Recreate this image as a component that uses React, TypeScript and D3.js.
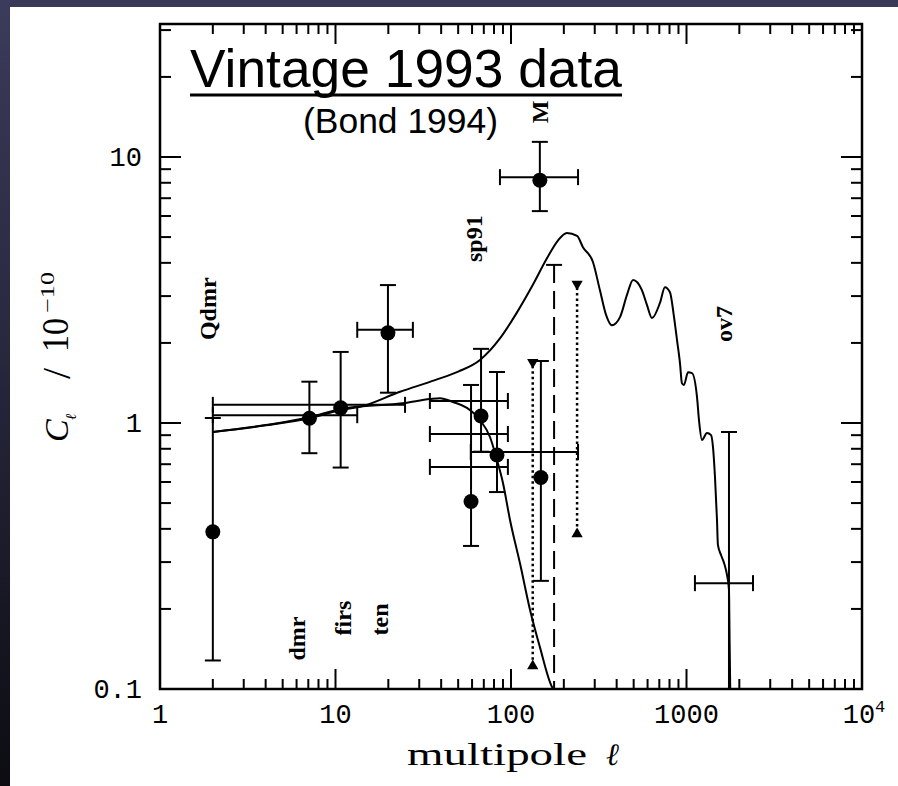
import React from 'react';
import * as d3 from 'd3';

const W = 898;
const H = 786;

// Axis ticks and their labels
const xMajorValues = [1, 10, 100, 1000, 10000];
const xMajorLabels = ['1', '10', '100', '1000', '10'];
const xMajorSup = ['', '', '', '', '4'];
const yMajorValues = [0.1, 1, 10];
const yMajorLabels = ['0.1', '1', '10'];

// Band-power detections: multipole centre, value, vertical range, optional multipole window
const pointNames = ['Qdmr', 'dmr', 'firs', 'ten', 'sp91a', 'sp91b', 'sp91c', 'msam', 'max'];
const pointL = [2, 7.1, 10.7, 19.9, 67.5, 83.2, 59.2, 148, 146];
const pointV = [0.4, 1.07, 1.17, 2.24, 1.09, 0.778, 0.52, 0.64, 8.4];
const pointLo = [0.128, 0.77, 0.68, 1.3, 0.78, 0.55, 0.345, 0.255, 6.26];
const pointHi = [1.044, 1.43, 1.85, 3.3, 1.9, 1.555, 1.39, 1.71, 11.4];
const pointLMin = [null, 2, 2, 13.3, null, 59, null, null, 86.5];
const pointLMax = [null, 13.3, 24.9, 27.6, null, 241, null, null, 241];

// Cross without a marker (OVRO ov7)
const crossL = [1746];
const crossV = [0.25];
const crossLo = [0.05];
const crossHi = [0.925];
const crossLMin = [1117];
const crossLMax = [2393];

// Window-only bars (multipole range at a given band power)
const windowV = [1.21, 0.909, 0.684];
const windowLMin = [34.5, 34.5, 34.5];
const windowLMax = [96, 96, 96];

// Dotted upper/lower limit pairs
const limitL = [133, 238];
const limitLo = [0.12, 0.376];
const limitHi = [1.72, 3.39];

// Dashed upper limit
const dashedL = [176];
const dashedLo = [0.05];
const dashedHi = [3.93];

// Model spectra
const modelPeaked: [number, number][] = [
  [2, 0.925], [4, 0.98], [7.16, 1.044], [10.8, 1.12], [13.8, 1.15], [23.3, 1.31],
  [36.9, 1.45], [50, 1.56], [66.6, 1.726], [86.5, 2.08], [108, 2.6], [133, 3.3],
  [160, 4.15], [185, 4.85], [208, 5.18], [238, 5.05], [257, 4.58], [293, 4.03],
  [321, 3.16], [348, 2.55], [376, 2.33], [418, 2.5], [458, 3.03], [496, 3.45],
  [557, 3.16], [595, 2.78], [636, 2.48], [706, 2.83], [754, 3.24], [805, 3.1],
  [849, 2.5], [883, 2.05], [918, 1.68], [942, 1.41], [967, 1.39], [1020, 1.55],
  [1075, 1.54], [1148, 1.25], [1178, 1.026], [1225, 0.863], [1308, 0.917],
  [1380, 0.9], [1416, 0.81], [1453, 0.627], [1492, 0.432], [1510, 0.348],
  [1573, 0.319], [1636, 0.298], [1702, 0.268], [1746, 0.236], [1760, 0.153],
  [1775, 0.1],
];
const modelDamped: [number, number][] = [
  [2, 0.925], [7.16, 1.053], [10.8, 1.13], [24.9, 1.19], [34.5, 1.23], [39.4, 1.24],
  [46.7, 1.2], [56.1, 1.14], [66.6, 1.026], [75.9, 0.886], [83.2, 0.726], [90, 0.595],
  [98.7, 0.432], [113, 0.293], [128, 0.2], [146, 0.144], [171, 0.102], [174, 0.1],
];

// Experiment labels (rotated), anchored at baseline start
const labelText = ['Qdmr', 'dmr', 'firs', 'ten', 'sp91', 'M', 'ov7'];
const labelL = [2.08, 6.7, 12.3, 19.9, 68.4, 163, 1822];
const labelV = [2.05, 0.128, 0.159, 0.159, 4.03, 13.4, 2.016];

const LEFT = 160;
const RIGHT = 862;
const TOP = 24;
const BOTTOM = 689;
const CAP = 8;
const MARKER_SHIFT = 3;

export default function App() {
  const x = d3.scaleLog().domain([1, 1e4]).range([LEFT, RIGHT]);
  const y = d3.scaleLog().domain([0.1, Math.pow(10, 1.5)]).range([BOTTOM, TOP]);

  const isMajor = (t: number) => Math.abs(Math.log10(t) - Math.round(Math.log10(t))) < 1e-9;
  const xTicks = x.ticks();
  const yTicks = y.ticks();

  const line = d3
    .line<[number, number]>()
    .x((d) => x(d[0]))
    .y((d) => y(d[1]))
    .curve(d3.curveMonotoneX);

  const tri = d3.symbol(d3.symbolTriangle, 55)() as string;

  const sw = 2;
  const ink = '#000';

  const vBar = (l: number, lo: number, hi: number, key: string, dash?: string, caps = true) => (
    <g key={key}>
      <line x1={x(l)} x2={x(l)} y1={y(lo)} y2={y(hi)} stroke={ink} strokeWidth={sw} strokeDasharray={dash} />
      {caps && <line x1={x(l) - CAP} x2={x(l) + CAP} y1={y(hi)} y2={y(hi)} stroke={ink} strokeWidth={sw} />}
      {caps && <line x1={x(l) - CAP} x2={x(l) + CAP} y1={y(lo)} y2={y(lo)} stroke={ink} strokeWidth={sw} />}
    </g>
  );
  const hBar = (v: number, l0: number, l1: number, key: string) => (
    <g key={key}>
      <line x1={x(l0)} x2={x(l1)} y1={y(v)} y2={y(v)} stroke={ink} strokeWidth={sw} />
      <line x1={x(l0)} x2={x(l0)} y1={y(v) - CAP} y2={y(v) + CAP} stroke={ink} strokeWidth={sw} />
      <line x1={x(l1)} x2={x(l1)} y1={y(v) - CAP} y2={y(v) + CAP} stroke={ink} strokeWidth={sw} />
    </g>
  );

  const monoFont = '"Liberation Mono", "DejaVu Sans Mono", monospace';
  const serifFont = '"Liberation Serif", "DejaVu Serif", serif';
  const sansFont = '"Liberation Sans", Arial, sans-serif';

  return (
    <svg width={W} height={H} style={{ position: 'absolute', left: 0, top: 0, display: 'block' }}>
      <defs>
        <linearGradient id="sideShade" x1="0" y1="0" x2="0" y2="1">
          <stop offset="0" stopColor="#3b3b5b" />
          <stop offset="0.5" stopColor="#25253a" />
          <stop offset="1" stopColor="#0c0c12" />
        </linearGradient>
        <clipPath id="plotClip">
          <rect x={LEFT} y={TOP} width={RIGHT - LEFT} height={BOTTOM - TOP} />
        </clipPath>
      </defs>

      {/* slide backdrop */}
      <rect x={0} y={0} width={W} height={H} fill="#ffffff" />
      <rect x={0} y={0} width={W} height={7} fill="#3a3a58" />
      <rect x={0} y={0} width={10} height={H} fill="url(#sideShade)" />

      {/* frame */}
      <rect x={LEFT} y={TOP} width={RIGHT - LEFT} height={BOTTOM - TOP} fill="none" stroke={ink} strokeWidth={2.5} />

      {/* x ticks, bottom and top */}
      {xTicks.map((t, i) => {
        const len = isMajor(t) ? 20 : 10;
        return (
          <g key={`xt${i}`}>
            <line x1={x(t)} x2={x(t)} y1={BOTTOM} y2={BOTTOM - len} stroke={ink} strokeWidth={2} />
            <line x1={x(t)} x2={x(t)} y1={TOP} y2={TOP + len} stroke={ink} strokeWidth={2} />
          </g>
        );
      })}
      {/* y ticks, left and right */}
      {yTicks.map((t, i) => {
        const len = isMajor(t) ? 21 : 11;
        return (
          <g key={`yt${i}`}>
            <line x1={LEFT} x2={LEFT + len} y1={y(t)} y2={y(t)} stroke={ink} strokeWidth={2} />
            <line x1={RIGHT} x2={RIGHT - len} y1={y(t)} y2={y(t)} stroke={ink} strokeWidth={2} />
          </g>
        );
      })}

      {/* tick labels */}
      {xMajorValues.map((t, i) => (
        <text
          key={`xl${i}`}
          x={x(t) + (xMajorSup[i] ? 2 : 0)}
          y={723}
          textAnchor="middle"
          fontFamily={monoFont}
          fontSize={27}
          fill={ink}
        >
          {xMajorLabels[i]}
          {xMajorSup[i] && (
            <tspan fontSize={17} dy={-11}>
              {xMajorSup[i]}
            </tspan>
          )}
        </text>
      ))}
      {yMajorValues.map((t, i) => (
        <text
          key={`yl${i}`}
          x={142}
          y={y(t) + 9}
          textAnchor="end"
          fontFamily={monoFont}
          fontSize={27}
          fill={ink}
        >
          {yMajorLabels[i]}
        </text>
      ))}

      {/* axis titles */}
      <text x={407} y={765} fontFamily={serifFont} fontSize={31} textLength={180} lengthAdjust="spacingAndGlyphs" fill={ink}>
        multipole
      </text>
      <text x={606} y={765} fontFamily={serifFont} fontStyle="italic" fontSize={31} fill={ink}>
        ℓ
      </text>

      <g transform="translate(68, 442) rotate(-90)" fill={ink}>
        <text x={0} y={0} fontFamily={serifFont} fontStyle="italic" fontSize={34}>
          C
        </text>
        <text x={22} y={8} fontFamily={serifFont} fontStyle="italic" fontSize={15}>
          ℓ
        </text>
        <text x={63} y={2} fontFamily={serifFont} fontSize={40}>
          /
        </text>
        <text x={90} y={0} fontFamily={serifFont} fontSize={38} textLength={34} lengthAdjust="spacingAndGlyphs">
          10
        </text>
        <text x={129} y={-14} fontFamily={serifFont} fontSize={19} textLength={41} lengthAdjust="spacingAndGlyphs">
          −10
        </text>
      </g>

      {/* plotted data */}
      <g clipPath="url(#plotClip)">
        <path d={line(modelPeaked) ?? ''} fill="none" stroke={ink} strokeWidth={2} />
        <path d={line(modelDamped) ?? ''} fill="none" stroke={ink} strokeWidth={2} />

        {windowV.map((v, i) => hBar(v, windowLMin[i], windowLMax[i], `w${i}`))}

        {pointNames.map((n, i) => (
          <g key={`p${n}`}>
            {vBar(pointL[i], pointLo[i], pointHi[i], `pv${i}`)}
            {pointLMin[i] !== null && hBar(pointV[i], pointLMin[i] as number, pointLMax[i] as number, `ph${i}`)}
            <circle cx={x(pointL[i])} cy={y(pointV[i]) + MARKER_SHIFT} r={7.5} fill={ink} />
          </g>
        ))}

        {crossL.map((l, i) => (
          <g key={`c${i}`}>
            {vBar(l, crossLo[i], crossHi[i], `cv${i}`)}
            {hBar(crossV[i], crossLMin[i], crossLMax[i], `ch${i}`)}
          </g>
        ))}

        {limitL.map((l, i) => (
          <g key={`lim${i}`}>
            <line x1={x(l)} x2={x(l)} y1={y(limitHi[i])} y2={y(limitLo[i])} stroke={ink} strokeWidth={2.5} strokeDasharray="2.5 3" />
            <path d={tri} transform={`translate(${x(l)},${y(limitHi[i]) + 2}) rotate(180)`} fill={ink} />
            <path d={tri} transform={`translate(${x(l)},${y(limitLo[i]) - 2})`} fill={ink} />
          </g>
        ))}

        {dashedL.map((l, i) => (
          <g key={`d${i}`}>
            <line x1={x(l)} x2={x(l)} y1={y(dashedHi[i])} y2={y(dashedLo[i])} stroke={ink} strokeWidth={2} strokeDasharray="18 8" />
            <line x1={x(l) - CAP} x2={x(l) + CAP} y1={y(dashedHi[i])} y2={y(dashedHi[i])} stroke={ink} strokeWidth={2} />
          </g>
        ))}
      </g>

      {/* experiment labels */}
      {labelText.map((t, i) => (
        <text
          key={`lab${i}`}
          transform={`translate(${x(labelL[i])},${y(labelV[i])}) rotate(-90)`}
          fontFamily={serifFont}
          fontWeight="bold"
          fontSize={24}
          fill={ink}
        >
          {t}
        </text>
      ))}

      {/* heading */}
      <text x={190} y={87} fontFamily={sansFont} fontSize={53} textLength={432} lengthAdjust="spacingAndGlyphs" fill={ink}>
        Vintage 1993 data
      </text>
      <line x1={190} x2={622} y1={95} y2={95} stroke={ink} strokeWidth={3} />
      <text x={303} y={133} fontFamily={sansFont} fontSize={35} textLength={195} lengthAdjust="spacingAndGlyphs" fill={ink}>
        (Bond 1994)
      </text>
    </svg>
  );
}
